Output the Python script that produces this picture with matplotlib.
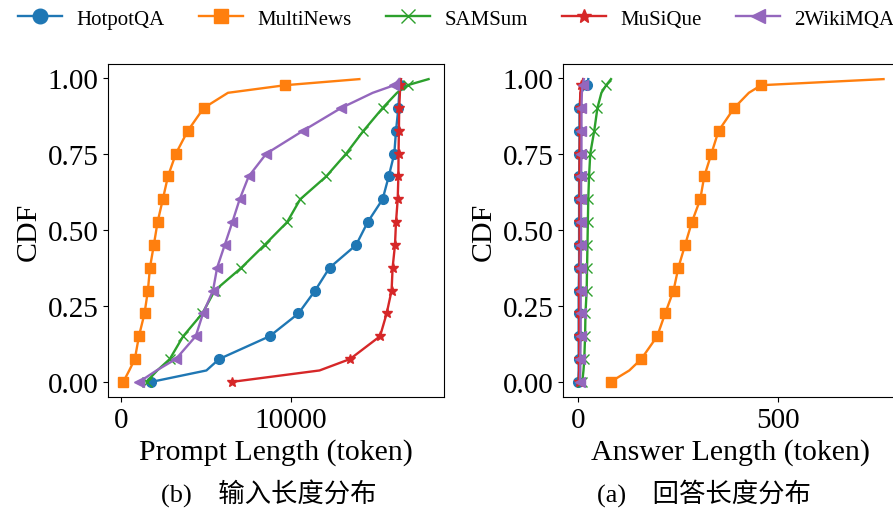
import matplotlib
matplotlib.use('Agg')
import matplotlib.pyplot as plt

plt.rcParams['font.family'] = ['Liberation Serif', 'Noto Sans CJK SC']
plt.rcParams['font.size'] = 21.5
plt.rcParams['xtick.labelsize'] = 21
plt.rcParams['ytick.labelsize'] = 21

# CDF levels (markers every 0.075, plus a few extra points)
levels = [0.0, 0.0375, 0.075, 0.15, 0.225, 0.3, 0.375, 0.45, 0.525, 0.6,
          0.675, 0.75, 0.825, 0.9, 0.95, 0.975, 0.995]
marker_idx = [0, 2, 3, 4, 5, 6, 7, 8, 9, 10, 11, 12, 13, 15]

datasets = ['HotpotQA', 'MultiNews', 'SAMSum', 'MuSiQue', '2WikiMQA']
markers = ['o', 's', 'x', '*', '<']
colors = ['#1f77b4', '#ff7f0e', '#2ca02c', '#d62728', '#9467bd']

# prompt length (token) at each level
hotpot_prompt = [1800, 5040, 5790, 8770, 10470, 11450, 12300, 13870, 14550, 15430,
                 15790, 16120, 16220, 16360, 16410, 16470, 16510]
multinews_prompt = [140, 490, 820, 1060, 1390, 1590, 1710, 1940, 2160, 2470,
                    2770, 3240, 3940, 4880, 6310, 9690, 14060]
samsum_prompt = [1510, 2140, 2880, 3670, 4800, 5530, 7100, 8470, 9800, 10570,
                 12100, 13280, 14300, 15430, 16280, 16900, 18140]
musique_prompt = [6550, 11710, 13510, 15280, 15670, 15960, 16020, 16160, 16220, 16320,
                  16360, 16370, 16390, 16410, 16450, 16470, 16510]
wiki_prompt = [1080, 2100, 3240, 4410, 4840, 5430, 5670, 6120, 6570, 7000,
               7530, 8570, 10730, 12980, 14850, 16120, 16410]

# answer length (token) at each level
hotpot_answer = [0, 1, 1, 1, 1, 1, 2, 2, 2, 2, 2, 3, 3, 3, 6, 22, 25]
multinews_answer = [81, 128, 158, 198, 218, 239, 251, 268, 285, 306,
                    316, 334, 352, 391, 428, 459, 766]
samsum_answer = [10, 13, 15, 17, 18, 21, 22, 23, 24, 25, 27, 30, 40, 48, 58, 70, 82]
musique_answer = [1, 2, 2, 2, 2, 2, 3, 3, 3, 3, 3, 3, 4, 4, 5, 8, 12]
wiki_answer = [4, 5, 5, 6, 6, 6, 6, 7, 7, 7, 7, 8, 8, 8, 9, 11, 14]

prompt_data = [hotpot_prompt, multinews_prompt, samsum_prompt, musique_prompt, wiki_prompt]
answer_data = [hotpot_answer, multinews_answer, samsum_answer, musique_answer, wiki_answer]

fig = plt.figure(figsize=(8.93, 5.10), dpi=100)
ax1 = fig.add_axes([0.121, 0.2196, 0.376, 0.653])
ax2 = fig.add_axes([0.6305, 0.2196, 0.376, 0.653])

for name, m, c, xs in zip(datasets, markers, colors, prompt_data):
    ax1.plot(xs, levels, color=c, marker=m, markevery=marker_idx, markersize=7,
             linewidth=1.7, label=name)
for name, m, c, xs in zip(datasets, markers, colors, answer_data):
    ax2.plot(xs, levels, color=c, marker=m, markevery=marker_idx, markersize=7,
             linewidth=1.7, label=name)

ax1.set_xticks([0, 10000])
ax2.set_xticks([0, 500])
for ax in (ax1, ax2):
    ax.set_yticks([0, 0.25, 0.5, 0.75, 1.0])
    ax.set_ylabel('CDF')
ax1.set_xlabel('Prompt Length (token)')
ax2.set_xlabel('Answer Length (token)')

fig.text(0.301, 0.031, '(b)    输入长度分布', ha='center', va='center', fontsize=19)
fig.text(0.788, 0.031, '(a)    回答长度分布', ha='center', va='center', fontsize=19)

handles, labels = ax1.get_legend_handles_labels()
fig.legend(handles, labels, ncol=5, loc='upper left', bbox_to_anchor=(18 / 893, 1 - 10 / 510),
           frameon=False, fontsize=15, columnspacing=1.65, handlelength=2.1,
           handletextpad=0.7, borderpad=0, borderaxespad=0, markerscale=1.5)

fig.savefig('out.png', dpi=100)
